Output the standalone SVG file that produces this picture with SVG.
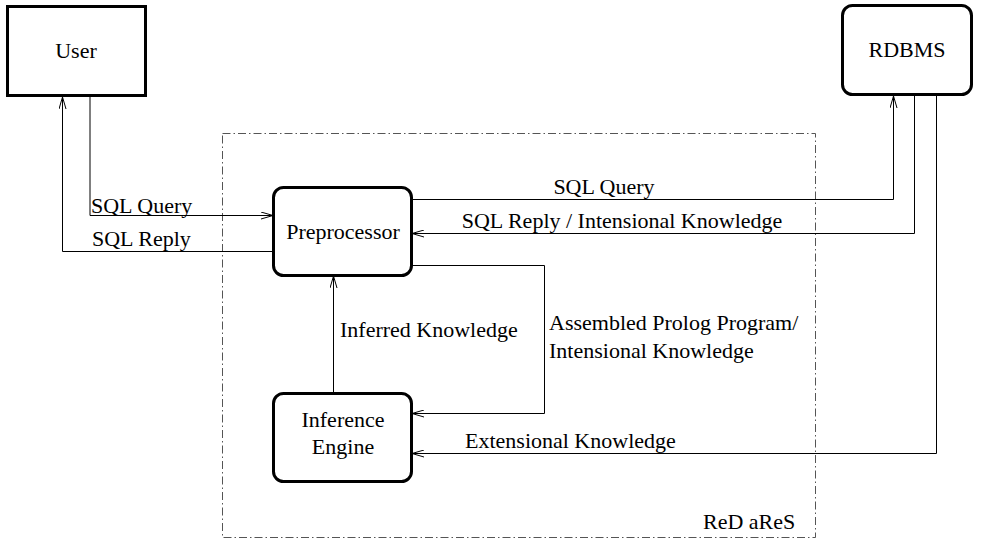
<svg xmlns="http://www.w3.org/2000/svg" width="982" height="539" viewBox="0 0 982 539">
<style>
.box{fill:#fff;stroke:#000;stroke-width:3}
.ln{fill:none;stroke:#000;stroke-width:1}
.t{font-family:"Liberation Serif","Times New Roman",serif;font-size:22px;fill:#000}
.c{text-anchor:middle}
</style>
<defs>
<marker id="ar" viewBox="0 0 12 8" refX="12" refY="4" markerWidth="12" markerHeight="8" markerUnits="userSpaceOnUse" orient="auto">
<path d="M0,0.5 L12,4 L0,7.5" fill="none" stroke="#000" stroke-width="1"/>
</marker>
</defs>
<rect x="222.5" y="133.5" width="593" height="404" fill="none" stroke="#555" stroke-width="1" stroke-dasharray="8,3,1.5,3"/>
<text class="t" x="703" y="529">ReD aReS</text>
<g id="connectors">
<polyline class="ln" points="90,96 90,215.5 273,215.5" marker-end="url(#ar)"/>
<polyline class="ln" points="273,251.5 62.5,251.5 62.5,97" marker-end="url(#ar)"/>
<polyline class="ln" points="412,199.5 893.5,199.5 893.5,96" marker-end="url(#ar)"/>
<polyline class="ln" points="914.5,95 914.5,233.5 412,233.5" marker-end="url(#ar)"/>
<polyline class="ln" points="936.5,95 936.5,453.5 412,453.5" marker-end="url(#ar)"/>
<polyline class="ln" points="412,265.5 544.5,265.5 544.5,413.5 412,413.5" marker-end="url(#ar)"/>
<line class="ln" x1="333.5" y1="392" x2="333.5" y2="276" marker-end="url(#ar)"/>
<text class="t" x="91" y="213">SQL Query</text>
<text class="t" x="92" y="246">SQL Reply</text>
<text class="t c" x="604" y="194">SQL Query</text>
<text class="t c" x="622" y="228">SQL Reply / Intensional Knowledge</text>
<text class="t" x="340" y="337">Inferred Knowledge</text>
<text class="t" x="549" y="330">Assembled Prolog Program/</text>
<text class="t" x="549" y="358">Intensional Knowledge</text>
<text class="t" x="465" y="448">Extensional Knowledge</text>
</g>
<g id="user">
<rect class="box" x="7.5" y="6.5" width="138" height="89"/>
<text class="t c" x="76" y="58">User</text>
</g>
<g id="rdbms">
<rect class="box" x="842.5" y="5.5" width="129" height="89" rx="10"/>
<text class="t c" x="907" y="57">RDBMS</text>
</g>
<g id="preprocessor">
<rect class="box" x="273.5" y="187.5" width="138" height="88" rx="10"/>
<text class="t c" x="343" y="239">Preprocessor</text>
</g>
<g id="inference">
<rect class="box" x="273.5" y="393.5" width="138" height="88" rx="10"/>
<text class="t c" x="343" y="427">Inference</text>
<text class="t c" x="343" y="454">Engine</text>
</g>
</svg>
